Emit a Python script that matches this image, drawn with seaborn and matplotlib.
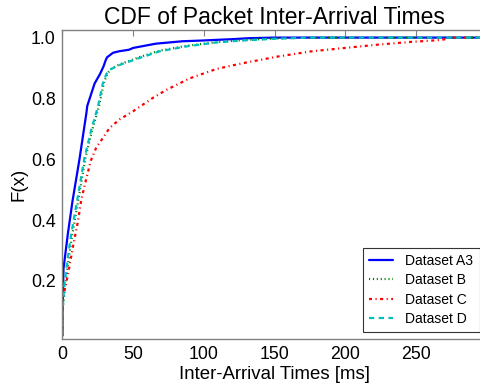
import matplotlib
matplotlib.use("Agg")
import matplotlib.pyplot as plt
import numpy as np
import pandas as pd
import seaborn as sns

# Empirical CDF samples of inter-arrival time (ms) per dataset
a3_ms = [0, 0, 0.7, 3.8, 7.0, 12.0, 17.0, 17.5, 22.7, 26.5, 29.0, 30.5, 31.5,
         35.7, 40.0, 47.0, 50.0, 66.0, 85.0, 97.0, 121.0, 132.0, 150.0, 300.0]
a3_cdf = [0.02, 0.09, 0.24, 0.355, 0.46, 0.60, 0.755, 0.775, 0.849, 0.88, 0.905,
          0.925, 0.935, 0.95, 0.955, 0.96, 0.966, 0.98, 0.988, 0.99, 0.995, 0.998,
          1.0, 1.0]

b_ms = [0, 0, 2.0, 4.5, 7.0, 11.0, 16.3, 21.0, 25.7, 29.2, 31.6, 34.0, 40.4,
        54.6, 68.8, 87.7, 109.0, 125.5, 150.0, 172.0, 300.0]
b_cdf = [0.02, 0.10, 0.19, 0.277, 0.355, 0.46, 0.606, 0.696, 0.772, 0.85, 0.88,
         0.896, 0.912, 0.936, 0.957, 0.973, 0.985, 0.991, 0.997, 1.0, 1.0]

c_ms = [0, 0, 1.4, 3.8, 7.3, 10.9, 13.2, 16.5, 20.0, 24.0, 28.6, 33.3, 40.4,
        50.0, 64.0, 73.5, 90.0, 109.0, 120.8, 130.0, 152.7, 176.4, 200.0, 223.6,
        247.0, 267.4, 271.0, 273.0, 300.0]
c_cdf = [0.02, 0.13, 0.167, 0.22, 0.31, 0.395, 0.465, 0.53, 0.595, 0.64, 0.67,
         0.703, 0.731, 0.758, 0.802, 0.828, 0.866, 0.897, 0.909, 0.918, 0.938,
         0.955, 0.966, 0.977, 0.986, 0.992, 0.995, 1.0, 1.0]

d_ms = [0, 0, 1.4, 3.8, 6.2, 10.2, 15.6, 20.3, 25.0, 28.6, 31.0, 33.3, 40.4,
        54.6, 68.8, 87.7, 109.0, 125.5, 150.0, 176.0, 300.0]
d_cdf = [0.02, 0.10, 0.19, 0.277, 0.355, 0.46, 0.606, 0.696, 0.772, 0.85, 0.88,
         0.894, 0.91, 0.933, 0.955, 0.971, 0.984, 0.99, 0.996, 1.0, 1.0]

labels = ["Dataset A3", "Dataset B", "Dataset C", "Dataset D"]
x_ticks = [0, 50, 100, 150, 200, 250]
y_ticks = [0.2, 0.4, 0.6, 0.8, 1.0]

series = [(labels[0], a3_ms, a3_cdf), (labels[1], b_ms, b_cdf),
          (labels[2], c_ms, c_cdf), (labels[3], d_ms, d_cdf)]
frames = []
for name, xs, ys in series:
    frames.append(pd.DataFrame({"t": xs, "F": ys, "dataset": name,
                                "order": np.arange(len(xs))}))
df = pd.concat(frames, ignore_index=True)

sns.set_style("white")
plt.rcParams["font.family"] = ["Liberation Sans", "DejaVu Sans"]
plt.rcParams["lines.scale_dashes"] = False
for key in ["text.color", "axes.labelcolor", "xtick.labelcolor", "ytick.labelcolor"]:
    plt.rcParams[key] = "black"

colors = {"Dataset A3": (0, 0, 1), "Dataset B": (0, 0.5, 0),
          "Dataset C": (1, 0, 0), "Dataset D": (0, 0.75, 0.75)}
styles = {"Dataset A3": "-", "Dataset B": (0, (0.8, 2.0)),
          "Dataset C": (0, (2.2, 2.5, 0.8, 2.5)), "Dataset D": (0, (3.8, 3.2))}

fig = plt.figure(figsize=(4.8, 3.83), dpi=100)
ax = fig.add_axes([0.1302, 0.1149, 0.8835, 0.8076])

for name in labels:
    sub = df[df["dataset"] == name]
    sns.lineplot(data=sub, x="t", y="F", ax=ax, sort=False, estimator=None,
                 color=colors[name], linewidth=1.6, label=name,
                 linestyle=styles[name])

ax.set_xlim(0, 300)
ax.set_ylim(0.009, 1.026)
ax.set_xticks(x_ticks)
ax.set_yticks(y_ticks)
ax.set_yticklabels([f"{v:.1f}" for v in y_ticks])

for side in ["left", "right", "top", "bottom"]:
    ax.spines[side].set_color("#808080")
    ax.spines[side].set_linewidth(1.0)
ax.tick_params(direction="in", length=4, width=0.8, color="#808080",
               labelsize=12.8, top=True, right=True, pad=5,
               labelcolor="black")

ax.set_xlabel("Inter-Arrival Times [ms]", fontsize=13.4, labelpad=2)
ax.set_ylabel("F(x)", fontsize=13.4, labelpad=2.5)
ax.set_title("CDF of Packet Inter-Arrival Times", fontsize=16.5, pad=4,
             color="black")

leg = ax.legend(loc="lower right", fontsize=10, frameon=True, fancybox=False,
                borderaxespad=0.5, handlelength=1.7, handletextpad=0.9,
                labelspacing=0.38, borderpad=0.45)
leg.get_frame().set_edgecolor("black")
leg.get_frame().set_linewidth(0.8)
for txt in leg.get_texts():
    txt.set_color("black")

fig.savefig("out.png", dpi=100)
